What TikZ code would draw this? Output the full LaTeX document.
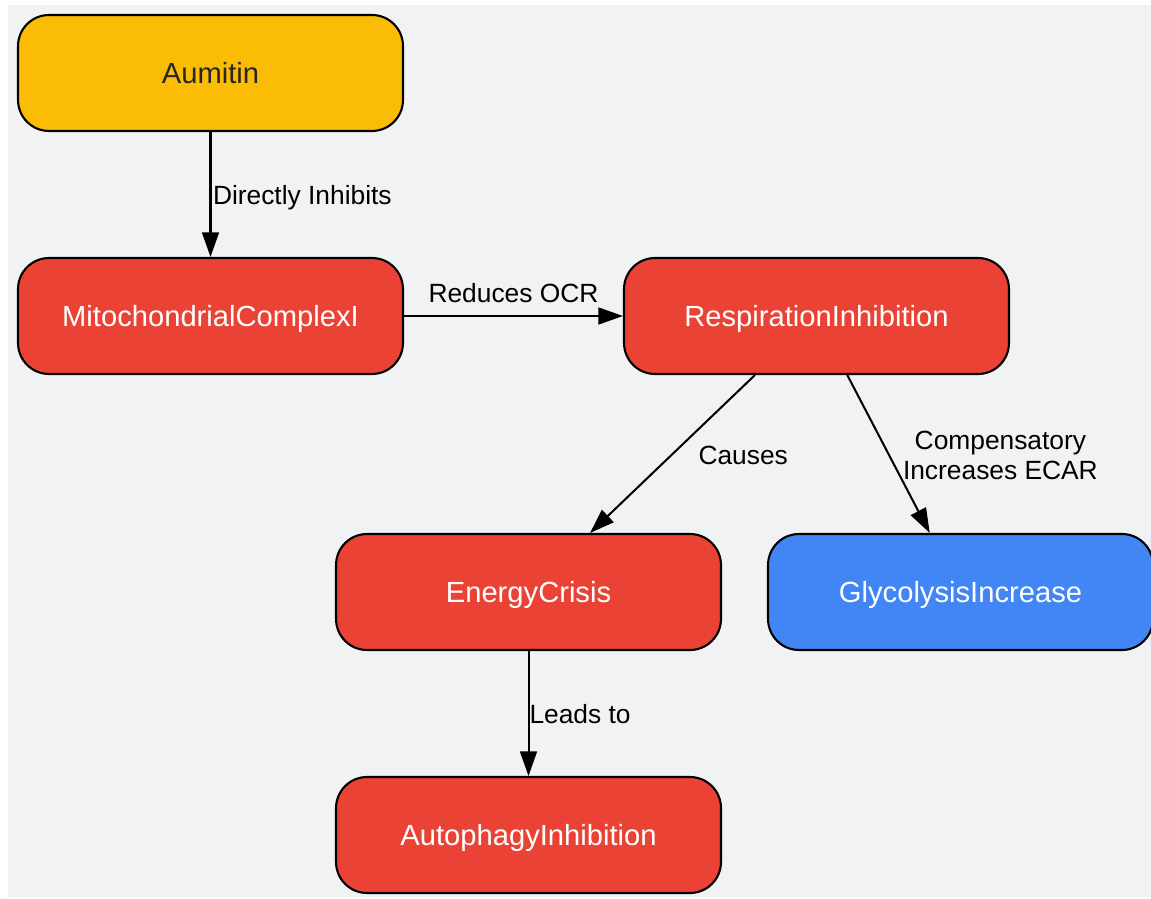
\documentclass[tikz,border=0pt]{standalone}
\usepackage{fontspec}
\setmainfont{Liberation Sans}
\usetikzlibrary{positioning}
\usetikzlibrary{arrows.meta}
\definecolor{bgpanel}{HTML}{F1F2F4}
\definecolor{drugyellow}{HTML}{FBBC05}
\definecolor{hitred}{HTML}{EA4335}
\definecolor{upblue}{HTML}{4285F4}
\definecolor{darktext}{HTML}{262626}
\tikzset{
  stepnode/.style={draw=black, line width=1.2pt, rounded corners=0.62cm,
    minimum width=7.7cm, minimum height=2.32cm, text=white, text depth=0pt,
    font=\fontsize{16.6}{20}\selectfont},
  link/.style={line width=1.15pt, -{Triangle[length=14pt, width=9.6pt]}},
  linklabel/.style={inner sep=0pt, font=\fontsize{15}{17.5}\selectfont, text=black}
}
\begin{document}
\begin{tikzpicture}[x=0.02cm, y=-0.02cm]

\useasboundingbox (0,0) rectangle (1151,898);
\fill[bgpanel] (8,5) rectangle (1151,897);

% nodes
\node[stepnode, fill=drugyellow, text=darktext] (aumitin) at (210.5,73) {Aumitin};
\node[stepnode, fill=hitred] (complexI) at (210.5,316) {MitochondrialComplexI};
\node[stepnode, fill=hitred] (respiration) at (816.5,316) {RespirationInhibition};
\node[stepnode, fill=hitred] (energy) at (528.5,592) {EnergyCrisis};
\node[stepnode, fill=upblue] (glycolysis) at (960.5,592) {GlycolysisIncrease};
\node[stepnode, fill=hitred] (autophagy) at (528.5,835) {AutophagyInhibition};

% links
\draw[link] (aumitin) -- (complexI)
  node[linklabel, text depth=0pt, midway, right=0.03cm] {Directly Inhibits};
\draw[link] (complexI) -- (respiration)
  node[linklabel, midway, above=0.24cm] {Reduces OCR};
\draw[link] (respiration) -- (energy)
  node[linklabel, midway, right=0.5cm, yshift=-0.02cm] {Causes};
\draw[link] (respiration) -- (glycolysis)
  node[linklabel, midway, right=0.27cm, yshift=-0.03cm, align=center] {Compensatory\\Increases ECAR};
\draw[link] (energy) -- (autophagy)
  node[linklabel, midway, right=0cm, yshift=-0.02cm] {Leads to};

\end{tikzpicture}
\end{document}
